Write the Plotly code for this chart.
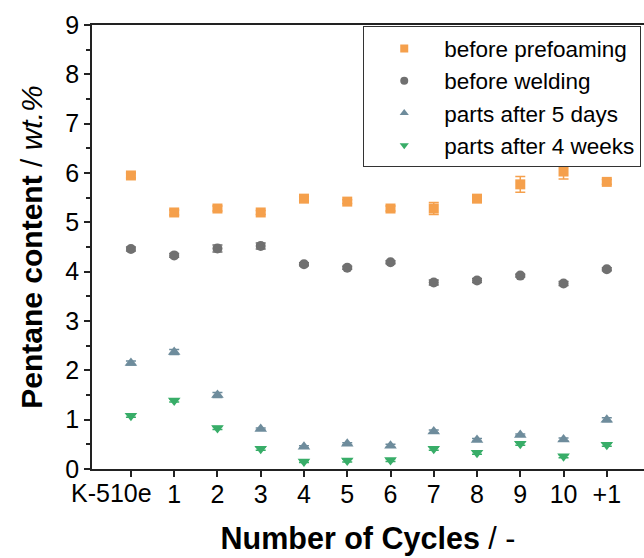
import plotly.graph_objects as go

categories = ["K-510e", "1", "2", "3", "4", "5", "6", "7", "8", "9", "10", "+1"]

prefoaming = [5.95, 5.20, 5.28, 5.20, 5.48, 5.42, 5.28, 5.28, 5.48, 5.77, 6.03, 5.82]
prefoaming_err = [0.05, 0.05, 0.05, 0.04, 0.04, 0.04, 0.05, 0.12, 0.05, 0.16, 0.15, 0.05]

welding = [4.46, 4.33, 4.47, 4.52, 4.15, 4.08, 4.19, 3.78, 3.82, 3.92, 3.76, 4.05]
welding_err = [0.04, 0.04, 0.07, 0.06, 0.03, 0.03, 0.03, 0.05, 0.04, 0.03, 0.04, 0.03]

days5 = [2.15, 2.37, 1.50, 0.81, 0.45, 0.51, 0.47, 0.76, 0.59, 0.69, 0.60, 1.00]
days5_err = [0.04, 0.05, 0.05, 0.02, 0.02, 0.02, 0.03, 0.03, 0.03, 0.02, 0.03, 0.04]

weeks4 = [1.08, 1.39, 0.83, 0.41, 0.15, 0.17, 0.18, 0.41, 0.33, 0.51, 0.26, 0.49]
weeks4_err = [0.03, 0.03, 0.03, 0.03, 0.02, 0.03, 0.03, 0.03, 0.03, 0.03, 0.03, 0.03]

series = [
    ("before prefoaming", prefoaming, prefoaming_err, "square", "#F5A04C", 10),
    ("before welding", welding, welding_err, "circle", "#707070", 10),
    ("parts after 5 days", days5, days5_err, "triangle-up", "#6E8C9C", 11),
    ("parts after 4 weeks", weeks4, weeks4_err, "triangle-down", "#38AD68", 11),
]

idx = list(range(len(categories)))
FONT = "Liberation Sans, Arial, sans-serif"
TICKFONT = dict(size=25, family=FONT, color="black")

fig = go.Figure()
for name, vals, errs, sym, col, size in series:
    fig.add_trace(go.Scatter(
        x=idx, y=vals, mode="markers", name=name, showlegend=False,
        marker=dict(symbol=sym, color=col, size=size, line=dict(width=0)),
        error_y=dict(type="data", array=errs, visible=True, color=col,
                     thickness=1.5, width=5),
    ))
# legend-only entries with smaller symbols
for name, vals, errs, sym, col, size in series:
    fig.add_trace(go.Scatter(
        x=[None], y=[None], mode="markers", name=name, showlegend=True,
        marker=dict(symbol=sym, color=col, size=8, line=dict(width=0)),
    ))

# first category label drawn left-shifted as in the reference
ticktext = [""] + categories[1:]
fig.add_annotation(
    x=idx[0], y=0, xref="x", yref="y", text=categories[0],
    showarrow=False, xanchor="center", yanchor="middle",
    xshift=-19, yshift=-24, font=TICKFONT,
)

fig.update_layout(
    width=644, height=558,
    margin=dict(l=92, r=0, t=25, b=89),
    plot_bgcolor="white", paper_bgcolor="white",
    font=dict(family=FONT, color="black"),
    showlegend=True,
    legend=dict(
        x=0.995, y=0.997, xanchor="right", yanchor="top",
        bordercolor="#333333", borderwidth=1, bgcolor="white",
        font=dict(size=22.5, family=FONT, color="black"),
        itemsizing="trace", tracegroupgap=0, itemwidth=70,
    ),
    xaxis=dict(
        range=[-0.9, 11.86], automargin=False,
        tickmode="array", tickvals=idx, ticktext=ticktext, tickangle=0,
        showline=True, linecolor="#222222", linewidth=1.5, mirror=True,
        ticks="outside", ticklen=6, tickwidth=1.5, tickcolor="#222222",
        ticklabelstandoff=-4,
        tickfont=TICKFONT,
        showgrid=False, zeroline=False,
        title=dict(text="<b>Number of Cycles</b> / -",
                   font=dict(size=30.5, family=FONT, color="black"),
                   standoff=21),
    ),
    yaxis=dict(
        range=[0, 9], dtick=1, automargin=False,
        showline=True, linecolor="#222222", linewidth=1.5, mirror=False,
        ticks="outside", ticklen=6, tickwidth=1.5, tickcolor="#222222",
        minor=dict(dtick=0.5, ticks="outside", ticklen=4, tickwidth=1.5, tickcolor="#222222"),
        tickfont=TICKFONT,
        showgrid=False, zeroline=False,
        title=dict(text="<b>Pentane content</b> / <i>wt.%</i>",
                   font=dict(size=30, family=FONT, color="black"),
                   standoff=14),
    ),
)

fig.write_html("out.html")
